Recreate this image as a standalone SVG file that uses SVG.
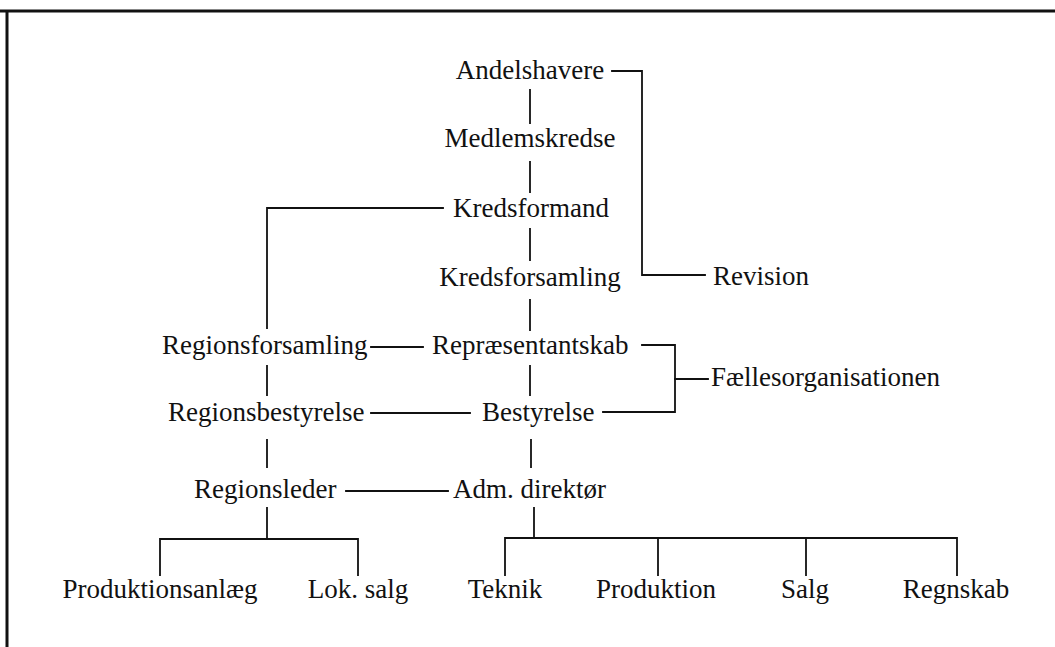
<svg xmlns="http://www.w3.org/2000/svg" width="1055" height="647" viewBox="0 0 1055 647">
  <style>
    .lbl { font-family: "Liberation Serif", "Times New Roman", serif; font-size: 27px; fill: #111; }
    .mid { text-anchor: middle; }
    .ln { fill: none; stroke: #111; stroke-width: 1.8; stroke-linecap: square; }
    .frame { fill: none; stroke: #111; stroke-width: 3; }
  </style>
  <rect x="0" y="0" width="1055" height="647" fill="#fff"/>

  <!-- page frame: top and left rules -->
  <g id="frame">
    <line class="frame" x1="0" y1="11" x2="1055" y2="11"/>
    <line class="frame" x1="7" y1="10" x2="7" y2="647"/>
  </g>

  <g id="connectors">
    <!-- central chain -->
    <line class="ln" x1="530" y1="90" x2="530" y2="123"/>
    <line class="ln" x1="530" y1="162" x2="530" y2="192"/>
    <line class="ln" x1="530" y1="229" x2="530" y2="260"/>
    <line class="ln" x1="530" y1="300" x2="530" y2="330"/>
    <line class="ln" x1="530" y1="366" x2="530" y2="395"/>
    <line class="ln" x1="531" y1="440" x2="531" y2="467"/>
    <!-- Andelshavere to Revision -->
    <polyline class="ln" points="612,71 642,71 642,275 705,275"/>
    <!-- Kredsformand to Regionsforsamling -->
    <polyline class="ln" points="443,208 267,208 267,328"/>
    <!-- regional chain -->
    <line class="ln" x1="267" y1="366" x2="267" y2="395"/>
    <line class="ln" x1="267" y1="440" x2="267" y2="467"/>
    <!-- horizontal links -->
    <line class="ln" x1="371" y1="347" x2="423" y2="347"/>
    <line class="ln" x1="371" y1="413" x2="470" y2="413"/>
    <line class="ln" x1="346" y1="491" x2="448" y2="491"/>
    <!-- bracket to Fællesorganisationen -->
    <polyline class="ln" points="642,345 675,345 675,412 603,412"/>
    <line class="ln" x1="675" y1="379" x2="708" y2="379"/>
    <!-- Regionsleder subtree -->
    <line class="ln" x1="267" y1="508" x2="267" y2="539"/>
    <polyline class="ln" points="160,575 160,539 358,539 358,575"/>
    <!-- Adm. direktør subtree -->
    <line class="ln" x1="534" y1="508" x2="534" y2="538"/>
    <polyline class="ln" points="505,575 505,538 957,538 957,575"/>
    <line class="ln" x1="658" y1="538" x2="658" y2="575"/>
    <line class="ln" x1="806" y1="538" x2="806" y2="575"/>
  </g>

  <g id="andelshavere"><text class="lbl mid" x="530" y="79">Andelshavere</text></g>
  <g id="medlemskredse"><text class="lbl mid" x="530" y="147">Medlemskredse</text></g>
  <g id="kredsformand"><text class="lbl mid" x="531" y="217">Kredsformand</text></g>
  <g id="kredsforsamling"><text class="lbl mid" x="530" y="286">Kredsforsamling</text></g>
  <g id="revision"><text class="lbl" x="713" y="285">Revision</text></g>
  <g id="regionsforsamling"><text class="lbl" x="162" y="354">Regionsforsamling</text></g>
  <g id="repraesentantskab"><text class="lbl" x="432" y="354">Repræsentantskab</text></g>
  <g id="faellesorganisationen"><text class="lbl" x="711" y="386">Fællesorganisationen</text></g>
  <g id="regionsbestyrelse"><text class="lbl" x="168" y="421">Regionsbestyrelse</text></g>
  <g id="bestyrelse"><text class="lbl" x="482" y="421">Bestyrelse</text></g>
  <g id="regionsleder"><text class="lbl" x="194" y="498">Regionsleder</text></g>
  <g id="adm-direktor"><text class="lbl" x="453" y="498">Adm. direktør</text></g>
  <g id="produktionsanlaeg"><text class="lbl mid" x="160" y="598">Produktionsanlæg</text></g>
  <g id="lok-salg"><text class="lbl mid" x="358" y="598">Lok. salg</text></g>
  <g id="teknik"><text class="lbl mid" x="505" y="598">Teknik</text></g>
  <g id="produktion"><text class="lbl mid" x="656" y="598">Produktion</text></g>
  <g id="salg"><text class="lbl mid" x="805" y="598">Salg</text></g>
  <g id="regnskab"><text class="lbl mid" x="956" y="598">Regnskab</text></g>
</svg>
